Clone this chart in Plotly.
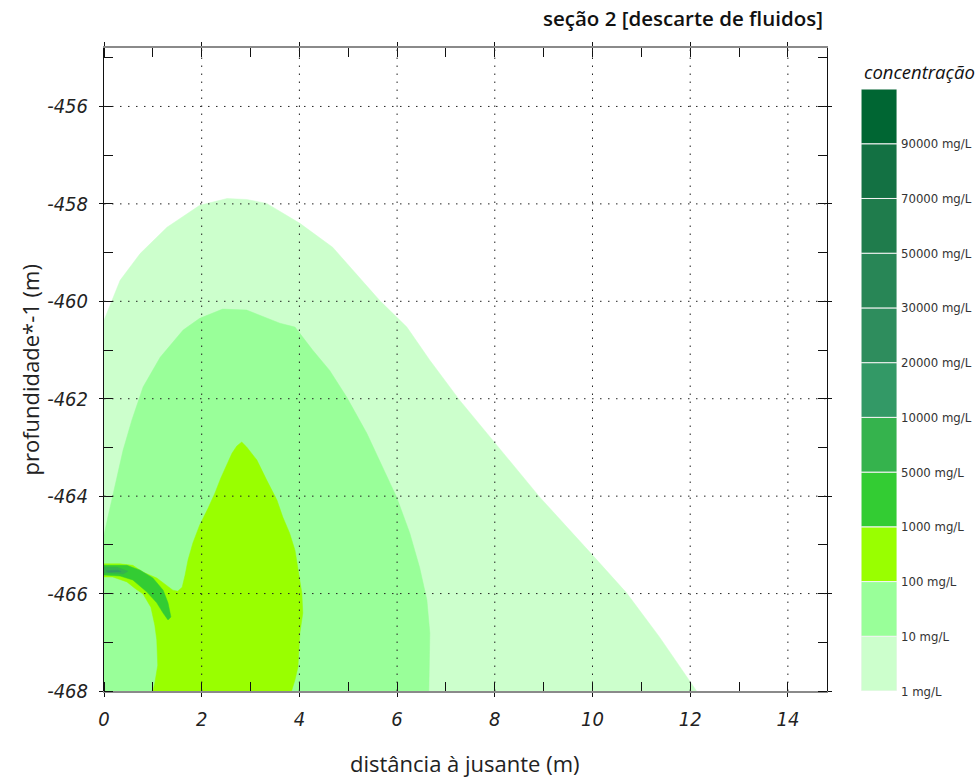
import plotly.graph_objects as go

# ---- concentration classes (legend) ----
level_labels = ["1 mg/L", "10 mg/L", "100 mg/L", "1000 mg/L", "5000 mg/L", "10000 mg/L",
                "20000 mg/L", "30000 mg/L", "50000 mg/L", "70000 mg/L", "90000 mg/L"]
level_colors = ["#CCFFCC", "#99FF99", "#99FF00", "#33CC33", "#35B34D", "#339966",
                "#2E8D5D", "#288656", "#1F7C4C", "#137143", "#006633"]

# ---- plume envelopes: distance downstream (m) / depth*-1 (m) ----
c1_x = [0, 0, 0.33, 0.74, 1.29, 1.96, 2.52, 2.92, 3.33, 4.01, 4.68, 5.64, 6.20, 6.67,
        7.28, 7.96, 8.92, 10.00, 10.70, 11.37, 11.84, 12.13]
c1_y = [-468, -460.39, -459.57, -459.02, -458.48, -458.03, -457.89, -457.91, -457.99,
        -458.40, -458.89, -459.98, -460.53, -461.21, -462.03, -462.85, -464.02, -465.21,
        -465.99, -466.89, -467.57, -468]

c10_x = [0, 0, 0.08, 0.22, 0.39, 0.57, 0.80, 1.15, 1.62, 1.96, 2.43, 2.92, 3.60, 3.91,
         4.27, 4.62, 4.97, 5.38, 5.71, 5.99, 6.26, 6.46, 6.61, 6.67, 6.65]
c10_y = [-468, -464.80, -464.43, -463.82, -463.06, -462.44, -461.76, -461.15, -460.59,
         -460.35, -460.16, -460.18, -460.45, -460.53, -461.00, -461.42, -461.97, -462.71,
         -463.41, -464.02, -464.76, -465.46, -466.13, -466.81, -468]

c100_x = [0, 0.33, 0.59, 0.80, 1.08, 1.29, 1.41, 1.51, 1.60, 1.66, 1.72, 1.82, 1.96, 2.13,
          2.27, 2.39, 2.52, 2.62, 2.72, 2.82, 2.92, 3.13, 3.33, 3.54, 3.66, 3.80, 3.91,
          3.97, 4.05, 4.07, 4.01, 3.97, 3.91, 3.84, 1.00, 1.04, 1.10, 1.08, 1.04, 0.96,
          0.80, 0.63, 0.47, 0.18, 0]
c100_y = [-465.39, -465.39, -465.42, -465.56, -465.68, -465.83, -465.93, -465.95, -465.87,
          -465.62, -465.31, -464.96, -464.59, -464.25, -463.94, -463.63, -463.36, -463.12,
          -462.97, -462.89, -462.99, -463.26, -463.67, -464.08, -464.43, -464.76, -465.11,
          -465.46, -465.99, -466.40, -466.81, -467.51, -467.77, -468, -468, -467.84,
          -467.47, -466.95, -466.65, -466.28, -466.01, -465.89, -465.76, -465.66, -465.66]

c1000_x = [0, 0.47, 0.74, 1.00, 1.21, 1.31, 1.37, 1.31, 1.21, 1.08, 0.88, 0.59, 0.33, 0]
c1000_y = [-465.42, -465.42, -465.52, -465.68, -465.93, -466.19, -466.48, -466.54,
           -466.40, -466.19, -465.97, -465.72, -465.64, -465.62]

c5000_x = [0, 0.27, 0.49, 0.39, 0.12, 0]
c5000_y = [-465.46, -465.46, -465.54, -465.60, -465.58, -465.58]

c10000_x = [0.04, 0.29, 0.35, 0.08]
c10000_y = [-465.53, -465.52, -465.55, -465.56]

# ---- axes ----
x_ticks = [0, 2, 4, 6, 8, 10, 12, 14]
x_ticktext = ["0", "2", "4", "6", "8", "10", "12", "14"]
y_ticks = [-468, -466, -464, -462, -460, -458, -456]
y_ticktext = ["-468", "-466", "-464", "-462", "-460", "-458", "-456"]
x_range = [0, 14.8]
y_range = [-468, -454.8]

envelopes = [
    (c1_x, c1_y, 0),
    (c10_x, c10_y, 1),
    (c100_x, c100_y, 2),
    (c1000_x, c1000_y, 3),
    (c5000_x, c5000_y, 4),
    (c10000_x, c10000_y, 5),
]

fig = go.Figure()

for xs, ys, k in envelopes:
    fig.add_trace(go.Scatter(
        x=xs, y=ys, mode="lines", fill="toself",
        fillcolor=level_colors[k], line=dict(width=0.5, color=level_colors[k]),
        hoverinfo="skip", showlegend=False, xaxis="x", yaxis="y"))

# overlay axes carrying the inner half of the major ticks
fig.add_trace(go.Scatter(x=[None], y=[None], xaxis="x3", yaxis="y3",
                         showlegend=False, hoverinfo="skip"))

# legend bar: one box per class
fig.add_trace(go.Bar(
    x=[0.5] * len(level_colors), y=[1] * len(level_colors),
    base=list(range(len(level_colors))), width=1,
    marker=dict(color=level_colors, line=dict(color="#f4f4f4", width=1)),
    xaxis="x2", yaxis="y2", showlegend=False, hoverinfo="skip"))

narrow = "DejaVu Sans Condensed, Liberation Sans Narrow, Roboto"
tick_font = dict(family=narrow, size=20, color="#222", style="italic")
main_dom_x = [0, 0.8253]

fig.update_layout(
    width=980, height=778,
    margin=dict(l=104, r=0, t=48, b=87),
    paper_bgcolor="white", plot_bgcolor="white",
    barmode="overlay",
    xaxis=dict(
        domain=main_dom_x, range=x_range, tickvals=x_ticks, ticktext=x_ticktext,
        showgrid=False, zeroline=False, showline=True, linecolor="#8a8a8a", linewidth=2,
        mirror="ticks", ticks="outside", ticklen=4, tickcolor="#111",
        tickfont=tick_font, ticklabelstandoff=5,
        minor=dict(dtick=1, tick0=0, ticks="inside", ticklen=9, tickcolor="#111", showgrid=False),
    ),
    yaxis=dict(
        domain=[0, 1], range=y_range, tickvals=y_ticks, ticktext=y_ticktext,
        showgrid=False, zeroline=False, showline=True, linecolor="#111", linewidth=1,
        mirror="ticks", ticks="outside", ticklen=4, tickcolor="#111",
        tickfont=tick_font, ticklabelstandoff=7,
        minor=dict(dtick=1, tick0=0, ticks="inside", ticklen=9, tickcolor="#111", showgrid=False),
    ),
    xaxis3=dict(
        overlaying="x", matches="x", range=x_range, tickvals=x_ticks,
        showticklabels=False, showgrid=False, zeroline=False, showline=False,
        ticks="inside", ticklen=9, tickcolor="#111", mirror="ticks",
    ),
    yaxis3=dict(
        overlaying="y", matches="y", range=y_range, tickvals=y_ticks,
        showticklabels=False, showgrid=False, zeroline=False, showline=False,
        ticks="inside", ticklen=9, tickcolor="#111", mirror="ticks",
    ),
    xaxis2=dict(
        domain=[0.8642, 0.9053], range=[0, 1], anchor="y2",
        showgrid=False, zeroline=False, showline=False, showticklabels=False, ticks="",
    ),
    yaxis2=dict(
        domain=[0, 0.9362], range=[0, len(level_colors)], anchor="x2", side="right",
        tickvals=list(range(len(level_labels))), ticktext=level_labels,
        showgrid=False, zeroline=False, showline=False, ticks="",
        tickfont=dict(family=narrow, size=13, color="#333"),
        ticklabelstandoff=3,
    ),
)

# dotted grid drawn over the filled envelopes
grid_style = dict(color="#222", width=1, dash="1.5px,6.5px")
for xv in x_ticks[1:]:
    fig.add_shape(type="line", xref="x", yref="y", x0=xv, x1=xv,
                  y0=y_range[0], y1=y_range[1], line=grid_style, layer="above")
for yv in y_ticks[1:]:
    fig.add_shape(type="line", xref="x", yref="y", x0=x_range[0], x1=x_range[1],
                  y0=yv, y1=yv, line=grid_style, layer="above")

# titles
fig.add_annotation(text="seção 2 [descarte de fluidos]", xref="paper", yref="paper",
                   x=0.823, y=1.0467, xanchor="right", yanchor="middle", showarrow=False,
                   font=dict(family="Open Sans", size=20.5, color="#111", weight=600))
fig.add_annotation(text="concentração", xref="paper", yref="paper",
                   x=0.9315, y=0.9627, xanchor="center", yanchor="middle", showarrow=False,
                   font=dict(family="Open Sans", size=18.5, color="#111", style="italic"))
fig.add_annotation(text="profundidade*-1 (m)", xref="paper", yref="paper",
                   x=-0.0845, y=0.5, xanchor="center", yanchor="middle", textangle=-90,
                   showarrow=False, font=dict(family="Open Sans", size=22, color="#222"))
fig.add_annotation(text="distância à jusante (m)", xref="paper", yref="paper",
                   x=main_dom_x[1] / 2, y=-0.112, xanchor="center", yanchor="middle",
                   showarrow=False, font=dict(family="Open Sans", size=22, color="#222"))

fig.write_html("out.html")
